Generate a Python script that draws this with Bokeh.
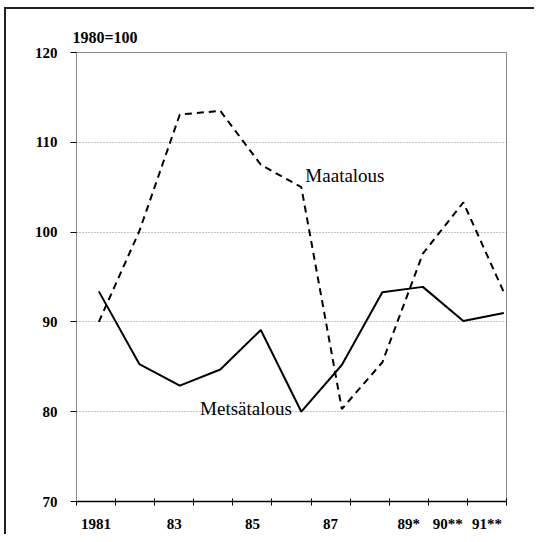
import numpy as np
from bokeh.plotting import figure
from bokeh.models import Range1d, FixedTicker, Label, Title
from bokeh.embed import file_html
from bokeh.resources import INLINE

years = [1981, 1982, 1983, 1984, 1985, 1986, 1987, 1988, 1989, 1990, 1991]
tick_labels = ["1981", "", "83", "", "85", "", "87", "", "89*", "90**", "91**"]
metsatalous = [93.4, 85.3, 82.9, 84.7, 89.1, 80.0, 85.2, 93.3, 93.9, 90.1, 91.0]
maatalous = [90.0, 100.1, 113.1, 113.5, 107.5, 105.0, 80.3, 85.5, 97.6, 103.3, 93.3]
y_ticks = [70, 80, 90, 100, 110, 120]

FONT = "Liberation Serif"

x_start, x_end = 1980.449, 1991.066
n = len(years)
step = (x_end - x_start) / n
bounds = [round(x_start + i * step, 4) for i in range(n + 1)]
mids = [round(x_start + (i + 0.5) * step, 4) for i in range(n)]

p = figure(width=534, height=534, output_backend="svg", toolbar_location=None,
           x_range=Range1d(x_start, x_end), y_range=Range1d(70, 120),
           min_border_left=76, min_border_right=28, min_border_top=52, min_border_bottom=33)
p.border_fill_color = None
p.background_fill_color = "white"
p.styles = {
    "background": "linear-gradient(#222,#222) 4px 7px / 2px 100% no-repeat, "
                  "linear-gradient(#222,#222) 4px 7px / 100% 2px no-repeat, white"
}

p.line(years, maatalous, line_color="black", line_width=2, line_dash="7 5")
p.line(years, metsatalous, line_color="black", line_width=2)

p.outline_line_color = "#888888"
p.outline_line_width = 1
p.xgrid.grid_line_color = None
p.ygrid.grid_line_color = "#888888"
p.ygrid.grid_line_dash = "1 2"
p.ygrid.grid_line_width = 1

xa = p.xaxis[0]
xa.ticker = FixedTicker(ticks=mids, minor_ticks=bounds)
xa.major_label_overrides = {m: lab for m, lab in zip(mids, tick_labels)}
xa.major_tick_in = 0
xa.major_tick_out = 0
xa.minor_tick_in = 3
xa.minor_tick_out = 4
xa.minor_tick_line_color = "black"
xa.axis_line_color = "black"
xa.axis_line_width = 1.5
xa.major_label_standoff = 10
xa.major_label_text_font = FONT
xa.major_label_text_font_style = "bold"
xa.major_label_text_font_size = "15px"
xa.major_label_text_color = "black"

ya = p.yaxis[0]
ya.ticker = FixedTicker(ticks=y_ticks)
ya.major_tick_in = 0
ya.major_tick_out = 6
ya.major_tick_line_color = "black"
ya.minor_tick_line_color = None
ya.axis_line_color = "#888888"
ya.major_label_standoff = 13
ya.major_label_text_font = FONT
ya.major_label_text_font_style = "bold"
ya.major_label_text_font_size = "15px"
ya.major_label_text_color = "black"

p.add_layout(Title(text="1980=100", align="left", offset=-4, standoff=13,
                   text_font=FONT, text_font_style="bold", text_font_size="16px",
                   text_color="black"), "above")
p.add_layout(Label(x=1986.1, y=106.3, text="Maatalous", text_font=FONT,
                   text_font_size="19px", text_color="black", text_baseline="alphabetic"))
p.add_layout(Label(x=1983.5, y=80.35, text="Metsätalous", text_font=FONT,
                   text_font_size="19px", text_color="black", text_baseline="alphabetic"))

open("out.html", "w").write(file_html(p, INLINE))
